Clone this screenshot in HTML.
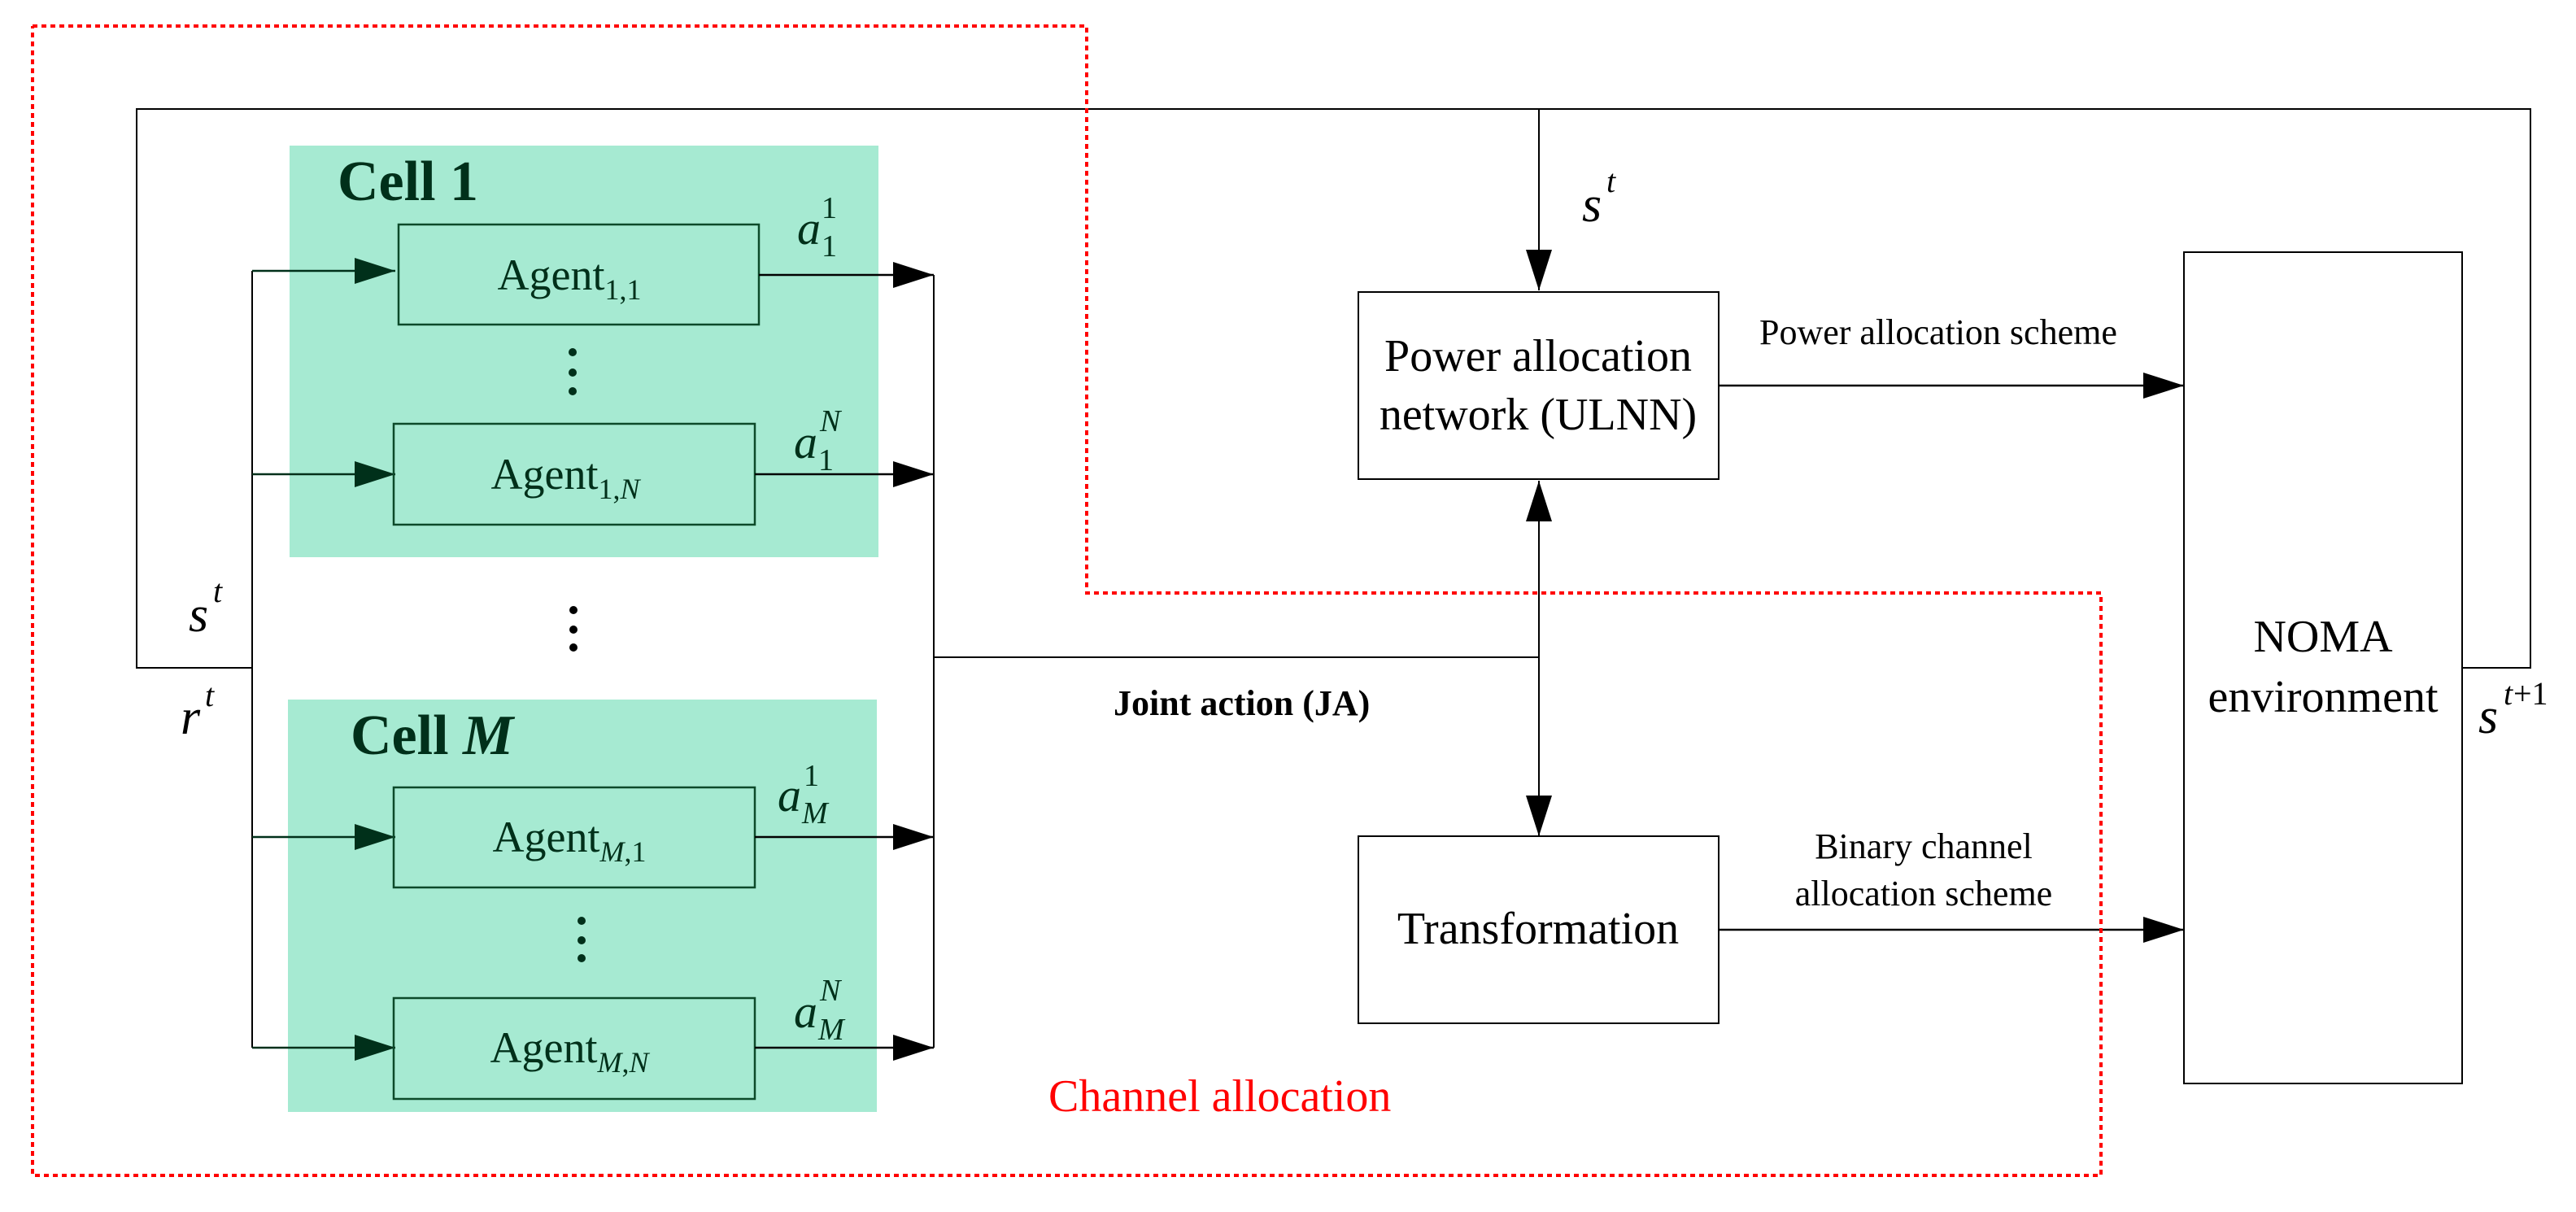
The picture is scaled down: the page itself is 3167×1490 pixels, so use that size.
<!DOCTYPE html>
<html><head><meta charset="utf-8"><style>
html,body{margin:0;padding:0;background:#fff;}
svg{display:block;}
text{font-family:"Liberation Serif",serif;}
</style></head><body>
<svg width="3167" height="1490" viewBox="0 0 3167 1490" xmlns="http://www.w3.org/2000/svg">
<defs>
<marker id="ah" viewBox="0 0 50 32" refX="50" refY="16" markerWidth="50" markerHeight="32" markerUnits="userSpaceOnUse" orient="auto">
<path d="M0,0 L50,16 L0,32 Z" fill="#000"/></marker>
<marker id="ahg" viewBox="0 0 50 32" refX="50" refY="16" markerWidth="50" markerHeight="32" markerUnits="userSpaceOnUse" orient="auto">
<path d="M0,0 L50,16 L0,32 Z" fill="#00301a"/></marker>
</defs>

<!-- green cells -->
<rect x="356" y="179" width="724" height="506" fill="#a6ead2"/>
<rect x="354" y="860" width="724" height="507" fill="#a6ead2"/>

<!-- feedback loop -->
<polyline points="310,821 168,821 168,134 3111,134 3111,821 3027,821" fill="none" stroke="#000" stroke-width="2"/>

<!-- left bus -->
<line x1="310" y1="333" x2="310" y2="1288" stroke="#000" stroke-width="2"/>
<g stroke="#00301a" stroke-width="2.5" fill="none">
<line x1="310" y1="333" x2="486" y2="333" marker-end="url(#ahg)"/>
<line x1="310" y1="583" x2="486" y2="583" marker-end="url(#ahg)"/>
<line x1="310" y1="1029" x2="486" y2="1029" marker-end="url(#ahg)"/>
<line x1="310" y1="1288" x2="486" y2="1288" marker-end="url(#ahg)"/>
</g>

<!-- agent boxes -->
<g fill="none" stroke="#0c4a2a" stroke-width="2.5">
<rect x="490" y="276" width="443" height="123"/>
<rect x="484" y="521" width="444" height="124"/>
<rect x="484" y="968" width="444" height="123"/>
<rect x="484" y="1227" width="444" height="124"/>
</g>

<!-- right bus -->
<line x1="1148" y1="338" x2="1148" y2="1288" stroke="#000" stroke-width="2"/>
<g stroke="#000" stroke-width="2.5">
<line x1="933" y1="338" x2="1148" y2="338" marker-end="url(#ah)"/>
<line x1="928" y1="583" x2="1148" y2="583" marker-end="url(#ah)"/>
<line x1="928" y1="1029" x2="1148" y2="1029" marker-end="url(#ah)"/>
<line x1="928" y1="1288" x2="1148" y2="1288" marker-end="url(#ah)"/>
</g>

<!-- JA line & vertical -->
<line x1="1148" y1="808" x2="1892" y2="808" stroke="#000" stroke-width="2"/>
<line x1="1892" y1="808" x2="1892" y2="591" stroke="#000" stroke-width="2" marker-end="url(#ah)"/>
<line x1="1892" y1="808" x2="1892" y2="1028" stroke="#000" stroke-width="2" marker-end="url(#ah)"/>
<line x1="1892" y1="134" x2="1892" y2="357" stroke="#000" stroke-width="2" marker-end="url(#ah)"/>

<!-- boxes -->
<g fill="none" stroke="#000" stroke-width="2">
<rect x="1670" y="359" width="443" height="230"/>
<rect x="1670" y="1028" width="443" height="230"/>
<rect x="2685" y="310" width="342" height="1022"/>
</g>
<line x1="2113" y1="474" x2="2685" y2="474" stroke="#000" stroke-width="2.5" marker-end="url(#ah)"/>
<line x1="2113" y1="1143" x2="2685" y2="1143" stroke="#000" stroke-width="2.5" marker-end="url(#ah)"/>

<!-- red dashed -->
<polyline points="40,32 1336,32 1336,729 2583,729 2583,1445 40,1445 40,32" fill="none" stroke="#f00" stroke-width="4" stroke-dasharray="6,5"/>

<!-- texts -->
<g fill="#00301a" font-weight="bold" font-size="70">
<text x="415" y="246">Cell 1</text>
<text x="431" y="927">Cell <tspan font-style="italic">M</tspan></text>
</g>
<g fill="#00301a" font-size="54" text-anchor="middle">
<text x="700" y="356">Agent<tspan font-size="36" dy="12">1,1</tspan></text>
<text x="695" y="601">Agent<tspan font-size="36" dy="12">1,<tspan font-style="italic">N</tspan></tspan></text>
<text x="700" y="1047">Agent<tspan font-size="36" dy="12"><tspan font-style="italic">M</tspan>,1</tspan></text>
<text x="700" y="1306">Agent<tspan font-size="36" dy="12"><tspan font-style="italic">M</tspan>,<tspan font-style="italic">N</tspan></tspan></text>
</g>
<g fill="#00301a" font-size="58" font-style="italic">
<text x="980" y="300">a</text><text x="1010" y="268" font-size="38" font-style="normal">1</text><text x="1010" y="315" font-size="38" font-style="normal">1</text>
<text x="976" y="563">a</text><text x="1008" y="530" font-size="38">N</text><text x="1006" y="578" font-size="38" font-style="normal">1</text>
<text x="956" y="997">a</text><text x="988" y="966" font-size="38" font-style="normal">1</text><text x="986" y="1012" font-size="38">M</text>
<text x="976" y="1263">a</text><text x="1008" y="1230" font-size="38">N</text><text x="1006" y="1278" font-size="38">M</text>
</g>
<!-- dots -->
<g fill="#00301a">
<circle cx="704" cy="433" r="5"/><circle cx="704" cy="458" r="5"/><circle cx="704" cy="481" r="5"/>
<circle cx="715" cy="1132" r="5"/><circle cx="715" cy="1156" r="5"/><circle cx="715" cy="1178" r="5"/>
</g>
<g fill="#000">
<circle cx="705" cy="750" r="5"/><circle cx="705" cy="774" r="5"/><circle cx="705" cy="796" r="5"/>
</g>

<g fill="#000" font-size="62" font-style="italic">
<text x="232" y="776">s</text><text x="262" y="740" font-size="40">t</text>
<text x="222" y="902">r</text><text x="252" y="868" font-size="40">t</text>
<text x="1945" y="272">s</text><text x="1975" y="236" font-size="40">t</text>
<text x="3047" y="901">s</text><text x="3078" y="866" font-size="40">t</text><text x="3090" y="866" font-size="40" font-style="normal">+1</text>
</g>

<g fill="#000" font-size="56" text-anchor="middle">
<text x="1891" y="456">Power allocation</text>
<text x="1891" y="528">network (ULNN)</text>
<text x="1891" y="1160">Transformation</text>
<text x="2856" y="801">NOMA</text>
<text x="2856" y="875">environment</text>
</g>
<g fill="#000" font-size="44">
<text x="2163" y="423">Power allocation scheme</text>
<text x="2365" y="1055" text-anchor="middle">Binary channel</text>
<text x="2365" y="1113" text-anchor="middle">allocation scheme</text>
<text x="1369" y="879" font-weight="bold">Joint action (JA)</text>
</g>
<text x="1289" y="1366" fill="#f00" font-size="56">Channel allocation</text>
</svg>
</body></html>
